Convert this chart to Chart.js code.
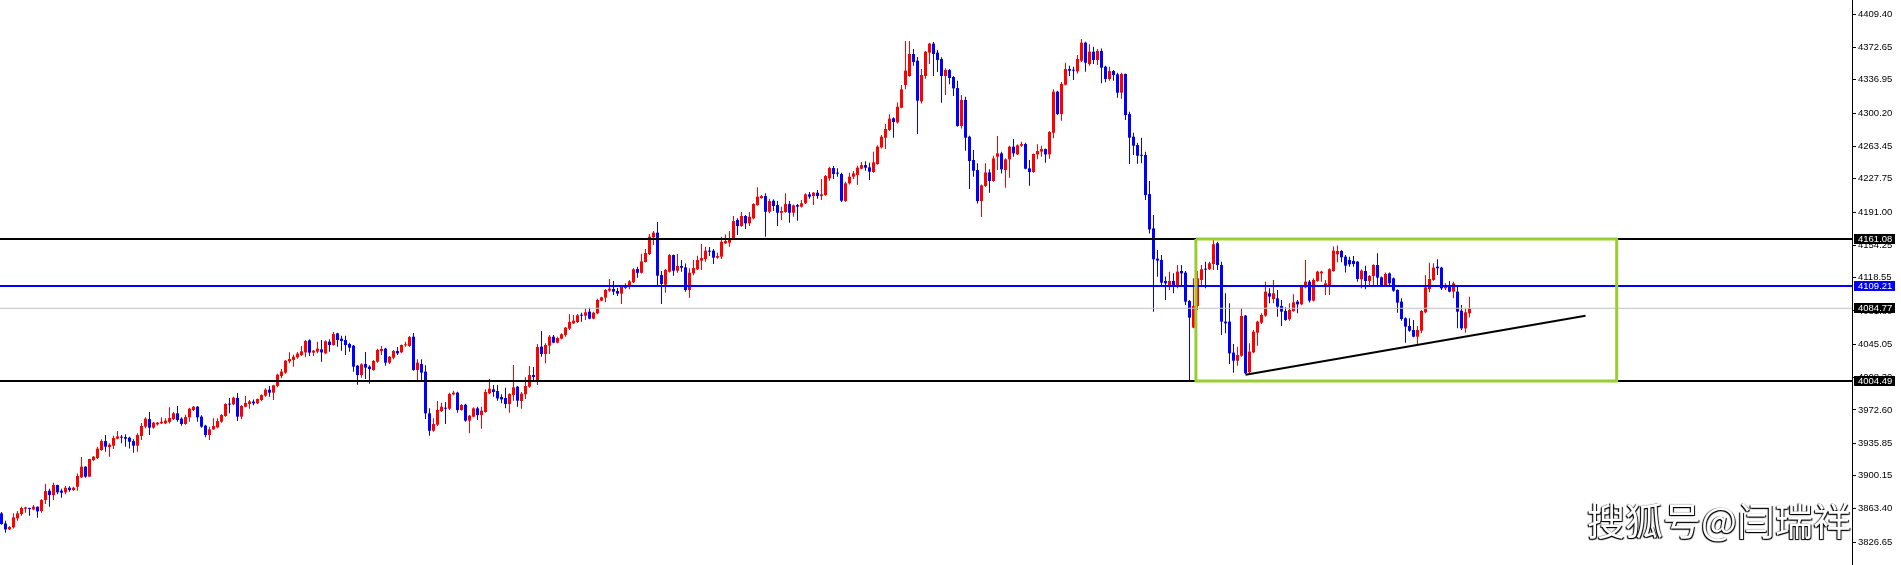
<!DOCTYPE html>
<html><head><meta charset="utf-8">
<script src="https://cdn.jsdelivr.net/npm/chart.js@4.4.1/dist/chart.umd.min.js"></script>
<style>
html,body{margin:0;padding:0;background:#fff;overflow:hidden}
#wrap{position:relative;width:1901px;height:565px}
canvas{display:block}
#wm{position:absolute;left:1587px;top:499px;font-family:"Noto Sans CJK SC";font-size:38px;line-height:40px;color:#fff;white-space:nowrap;
text-shadow:1px 1px 1px #000,-1px 1px 1px #000,-1px 0 1px rgba(0,0,0,.6)}
</style></head><body>
<div id="wrap"><canvas id="c" width="1901" height="565"></canvas><div id="wm">搜狐号@闫瑞祥</div></div>
<script>
const opens=[3858.4,3847.3,3840.7,3842.9,3852.9,3857.6,3863.5,3864.3,3862.8,3865.7,
3861.0,3873.1,3883.4,3878.6,3889.7,3883.4,3881.6,3886.7,3884.1,3887.8,
3898.1,3909.9,3898.9,3917.3,3919.5,3928.3,3938.2,3931.6,3933.1,3940.8,
3943.0,3942.6,3941.9,3938.2,3933.1,3943.8,3954.1,3962.5,3953.0,3956.6,
3957.7,3957.7,3959.2,3962.5,3968.8,3962.9,3957.0,3964.4,3972.5,3976.1,
3965.1,3955.2,3944.9,3951.1,3953.3,3959.6,3965.8,3979.5,3978.7,3985.7,
3965.1,3976.1,3979.1,3981.7,3979.8,3983.5,3988.3,3994.9,3991.6,3999.0,
4010.0,4013.7,4026.2,4027.7,4030.6,4033.2,4036.1,4049.4,4035.8,4036.9,
4039.4,4035.0,4047.9,4044.2,4057.1,4051.2,4049.7,4045.3,4043.5,4021.4,
4011.1,4023.2,4020.3,4016.6,4025.8,4037.6,4040.2,4024.7,4030.2,4037.6,
4036.1,4043.9,4043.1,4053.4,4016.6,4023.2,4014.8,3968.8,3949.6,3956.3,
3971.4,3974.7,3973.9,3989.8,3991.6,3972.5,3978.3,3960.7,3965.1,3974.3,
3966.9,3970.3,3990.9,3995.3,3993.4,3986.8,3985.7,3979.1,3989.0,3998.2,
3982.4,3989.8,3998.2,4011.1,4005.6,4042.4,4034.3,4043.5,4053.4,4046.8,
4051.2,4055.3,4062.3,4068.1,4069.6,4077.3,4076.6,4081.0,4073.3,4079.2,
4093.2,4096.5,4104.2,4106.0,4103.8,4100.9,4107.1,4110.1,4113.4,4128.1,
4123.9,4135.8,4144.6,4163.0,4168.2,4121.4,4110.8,4125.1,4143.5,4126.2,
4131.4,4129.9,4104.9,4123.3,4127.7,4137.3,4139.1,4148.3,4148.3,4140.6,
4141.7,4156.4,4157.1,4161.9,4182.2,4175.5,4186.6,4178.5,4184.0,4198.7,
4206.4,4208.6,4191.3,4203.5,4198.7,4190.2,4191.0,4199.8,4190.2,4198.7,
4196.9,4200.6,4210.5,4208.6,4212.3,4208.6,4209.7,4228.1,4239.5,4234.4,
4232.9,4203.1,4222.6,4230.0,4231.8,4238.8,4242.8,4240.3,4235.1,4243.9,
4262.3,4273.0,4281.5,4294.4,4289.9,4306.1,4331.2,4341.1,4365.4,4358.0,
4313.1,4341.1,4366.9,4376.8,4366.9,4359.9,4341.1,4347.7,4340.0,4327.8,
4285.9,4314.6,4274.1,4248.4,4237.3,4203.1,4219.7,4234.7,4225.2,4252.0,
4255.7,4237.3,4249.1,4263.1,4254.6,4264.2,4266.0,4239.2,4235.1,4254.6,
4257.6,4260.5,4254.6,4278.5,4323.8,4299.1,4331.5,4348.8,4348.1,4346.2,
4358.0,4377.9,4354.3,4368.0,4358.8,4368.7,4351.4,4337.8,4346.6,4342.9,
4322.7,4343.3,4299.1,4274.1,4264.9,4253.9,4253.9,4210.8,4172.9,4139.5,
4138.1,4114.9,4110.5,4114.9,4110.5,4125.9,4124.1,4092.8,4063.4,4087.3,
4116.0,4128.5,4127.8,4133.6,4156.5,4132.5,4070.0,4070.0,4035.8,4026.9,
4032.4,4076.6,4014.1,4036.1,4057.8,4068.9,4076.6,4101.3,4095.0,4095.7,
4087.3,4081.8,4072.6,4081.8,4092.1,4089.1,4107.9,4114.1,4093.2,4114.9,
4123.3,4109.4,4109.7,4125.9,4144.3,4148.0,4141.7,4138.1,4137.0,4136.2,
4116.7,4125.9,4114.9,4120.4,4132.5,4118.9,4110.1,4123.3,4117.8,4104.9,
4092.1,4073.7,4065.2,4060.8,4053.4,4060.0,4080.3,4106.0,4116.0,4130.7,
4129.6,4106.8,4108.6,4103.1,4103.1,4082.1,4062.6,4079.2];
const highs=[3859.9,3850.3,3844.4,3858.4,3861.0,3865.7,3865.7,3864.6,3867.6,3866.1,
3874.2,3891.1,3885.6,3892.2,3890.0,3885.6,3888.6,3888.2,3887.8,3902.5,
3920.6,3910.3,3918.7,3921.7,3932.0,3940.1,3944.9,3935.7,3944.1,3949.3,
3944.9,3945.6,3943.0,3940.1,3946.7,3958.1,3964.4,3970.2,3959.6,3959.2,
3964.4,3963.3,3975.4,3970.2,3976.9,3964.4,3967.3,3975.0,3976.9,3976.9,
3966.6,3956.3,3954.1,3963.3,3963.3,3968.0,3979.8,3985.7,3987.2,3991.2,
3978.0,3987.9,3983.5,3984.2,3985.3,3989.8,3996.4,3999.0,4000.4,4012.6,
4017.7,4027.7,4036.1,4033.5,4036.5,4043.1,4049.7,4050.5,4038.7,4047.9,
4049.7,4049.4,4050.5,4058.6,4057.8,4054.5,4054.5,4046.8,4044.2,4022.1,
4024.0,4036.5,4021.8,4027.7,4040.2,4043.1,4041.3,4032.1,4038.7,4042.0,
4044.9,4047.9,4054.2,4057.5,4028.4,4028.4,4021.8,3974.3,3963.3,3982.4,
3980.6,3981.3,3991.6,3993.8,3992.7,3979.1,3979.5,3966.9,3975.4,3976.1,
3976.1,3995.3,4006.7,4000.1,4000.1,3989.8,3997.1,3990.9,4022.1,3998.9,
3992.3,4008.5,4021.0,4019.9,4045.3,4059.7,4046.1,4055.3,4055.3,4053.4,
4057.1,4064.1,4078.1,4077.3,4078.4,4079.9,4084.7,4085.4,4081.0,4095.4,
4097.6,4106.0,4117.1,4114.9,4107.1,4110.5,4112.3,4116.0,4128.9,4130.6,
4145.0,4150.1,4166.7,4170.0,4179.9,4126.0,4128.1,4144.6,4144.2,4144.6,
4138.0,4134.3,4128.8,4138.0,4142.8,4155.7,4152.7,4152.3,4150.1,4146.1,
4163.7,4166.3,4170.0,4186.6,4184.0,4191.0,4187.7,4191.0,4200.6,4218.2,
4209.7,4211.6,4205.7,4205.0,4203.1,4196.9,4211.6,4203.1,4199.4,4199.8,
4204.2,4211.6,4213.1,4213.1,4215.3,4227.4,4231.8,4241.0,4241.7,4239.2,
4234.4,4224.4,4234.4,4236.2,4242.1,4246.2,4246.9,4245.4,4257.6,4264.6,
4276.0,4288.1,4298.8,4295.5,4312.0,4331.2,4379.7,4379.7,4370.9,4362.1,
4348.8,4368.7,4377.9,4378.6,4369.8,4361.7,4349.6,4348.8,4341.1,4335.9,
4320.1,4318.3,4275.2,4259.4,4244.7,4221.5,4244.7,4238.1,4253.1,4274.9,
4257.6,4250.2,4264.2,4271.5,4265.7,4268.6,4267.5,4248.4,4255.7,4265.7,
4264.2,4261.2,4280.4,4326.4,4324.9,4334.5,4355.8,4352.5,4351.4,4364.3,
4381.9,4379.0,4376.1,4373.5,4370.9,4371.6,4352.5,4351.4,4347.7,4344.8,
4344.8,4344.0,4301.7,4278.5,4267.5,4273.0,4257.6,4225.2,4187.6,4149.1,
4143.6,4119.7,4125.2,4123.3,4132.5,4132.5,4125.9,4093.9,4117.8,4125.9,
4132.5,4136.2,4136.2,4160.1,4158.3,4136.2,4101.3,4090.2,4045.3,4042.4,
4084.7,4077.3,4046.1,4060.8,4071.1,4079.2,4114.1,4106.8,4116.0,4104.9,
4093.9,4085.8,4090.2,4100.2,4093.9,4109.7,4138.1,4116.0,4117.8,4126.3,
4126.3,4116.0,4128.9,4152.8,4153.9,4149.1,4143.6,4141.7,4142.5,4137.0,
4127.8,4131.8,4121.5,4133.3,4145.4,4119.7,4124.1,4124.1,4118.6,4105.7,
4095.7,4074.8,4073.7,4071.8,4065.2,4082.9,4121.5,4135.1,4134.4,4138.8,
4130.7,4112.3,4114.9,4114.1,4109.4,4088.4,4084.7,4097.6];
const lows=[3845.9,3837.0,3840.0,3841.8,3850.3,3855.8,3859.1,3855.8,3861.7,3853.6,
3859.1,3868.7,3865.7,3873.1,3879.4,3875.7,3879.4,3882.3,3883.4,3883.4,
3897.4,3897.8,3898.9,3916.2,3918.4,3927.6,3926.5,3920.9,3929.4,3940.1,
3935.7,3932.0,3930.1,3925.4,3926.5,3939.3,3952.2,3944.9,3951.8,3955.5,
3957.0,3957.0,3957.7,3961.4,3959.6,3955.2,3956.3,3959.6,3971.4,3959.6,
3953.0,3942.3,3939.3,3950.4,3952.2,3958.5,3965.1,3968.8,3977.6,3960.3,
3962.2,3975.4,3973.9,3977.6,3979.1,3982.0,3987.2,3987.2,3983.5,3997.5,
4007.4,4012.6,4024.0,4020.3,4029.1,4032.1,4030.6,4032.1,4032.1,4035.0,
4025.8,4033.9,4036.9,4043.5,4042.4,4038.0,4033.2,4036.9,4014.8,4000.4,
4008.2,4006.7,4001.5,4015.9,4024.7,4033.2,4021.4,4023.2,4028.4,4033.2,
4035.0,4042.4,4042.4,4015.9,4005.6,4004.8,3962.5,3944.1,3948.5,3954.8,
3970.2,3957.0,3972.5,3988.7,3969.5,3971.7,3959.6,3946.7,3964.4,3961.4,
3951.9,3969.5,3989.8,3987.2,3982.8,3979.8,3974.3,3969.5,3982.8,3976.1,
3973.9,3984.6,3997.1,4005.6,4000.1,4031.3,4024.0,4034.3,4046.1,4046.1,
4050.5,4053.4,4060.8,4067.4,4068.5,4070.0,4071.8,4072.6,4072.6,4078.1,
4092.4,4091.3,4103.1,4099.4,4098.3,4089.5,4106.0,4105.7,4112.7,4118.5,
4123.2,4135.3,4143.5,4154.6,4109.7,4089.5,4102.0,4124.1,4120.7,4124.0,
4125.1,4103.1,4096.5,4121.1,4126.9,4126.9,4136.2,4142.4,4133.6,4139.5,
4139.1,4155.7,4152.7,4161.5,4165.6,4174.8,4172.2,4175.5,4182.9,4198.0,
4205.7,4163.7,4189.5,4192.1,4175.5,4182.2,4190.2,4179.2,4185.8,4181.4,
4196.1,4199.8,4205.7,4198.7,4205.7,4204.2,4209.0,4225.5,4227.4,4230.0,
4202.0,4202.4,4221.5,4227.4,4220.8,4238.1,4236.6,4226.3,4234.4,4243.2,
4261.2,4260.5,4280.7,4273.0,4288.8,4305.4,4326.4,4340.4,4352.5,4277.1,
4310.9,4338.2,4354.3,4341.1,4345.5,4311.7,4320.1,4331.9,4319.0,4285.2,
4283.3,4258.7,4216.3,4230.0,4200.5,4185.4,4218.9,4212.3,4224.4,4237.3,
4233.6,4217.8,4228.9,4252.0,4253.9,4263.1,4238.1,4220.0,4234.4,4249.1,
4252.0,4245.4,4249.8,4272.3,4298.0,4291.8,4330.8,4341.1,4336.7,4344.0,
4356.6,4345.9,4352.5,4354.3,4353.2,4333.0,4334.1,4335.9,4335.9,4317.2,
4316.1,4292.5,4243.9,4253.9,4244.3,4244.7,4204.2,4167.4,4081.0,4119.6,
4108.6,4093.9,4104.9,4101.3,4106.8,4108.6,4088.4,4005.6,4062.6,4082.9,
4108.6,4106.8,4127.0,4127.0,4127.0,4055.3,4057.1,4023.2,4013.7,4021.4,
4031.3,4012.2,4013.0,4035.0,4043.5,4067.4,4075.5,4090.2,4090.2,4075.5,
4065.2,4071.1,4071.1,4081.0,4079.2,4088.0,4106.8,4091.0,4092.1,4114.1,
4114.1,4099.4,4099.4,4125.2,4135.5,4135.5,4124.1,4130.7,4130.7,4114.1,
4106.8,4105.7,4110.5,4109.4,4109.4,4109.4,4109.4,4108.6,4103.1,4079.9,
4071.1,4046.8,4058.9,4052.7,4045.3,4057.1,4079.2,4102.4,4115.2,4121.5,
4104.9,4104.9,4102.4,4095.7,4062.6,4060.8,4057.8,4074.8];
const closes=[3846.6,3840.7,3843.3,3854.0,3858.4,3864.3,3865.0,3863.2,3865.7,3860.6,
3873.1,3883.0,3878.6,3889.7,3881.6,3881.2,3886.7,3884.1,3886.7,3899.6,
3909.9,3898.9,3918.4,3920.9,3929.8,3938.2,3932.0,3934.2,3941.6,3943.4,
3941.9,3940.8,3937.5,3933.1,3944.9,3954.8,3962.9,3953.0,3958.5,3958.5,
3959.6,3960.7,3963.6,3968.8,3961.4,3957.0,3964.7,3973.9,3976.1,3964.4,
3954.1,3944.9,3951.1,3954.8,3960.3,3966.9,3979.1,3978.4,3986.1,3965.1,
3976.9,3980.2,3982.0,3979.8,3984.6,3989.0,3994.9,3991.6,3999.7,4011.5,
4014.8,4026.9,4028.8,4031.3,4034.7,4037.2,4048.6,4035.8,4038.0,4040.2,
4036.1,4048.3,4044.2,4056.4,4049.7,4048.6,4044.2,4041.3,4020.3,4011.1,
4022.9,4019.2,4017.7,4026.6,4038.7,4039.8,4024.7,4031.3,4037.6,4035.0,
4044.2,4045.0,4053.0,4016.6,4024.7,4013.7,3968.8,3949.6,3957.0,3972.5,
3976.1,3973.9,3990.1,3991.6,3972.5,3978.0,3960.7,3966.2,3974.3,3966.9,
3971.7,3992.3,3996.0,3992.3,3985.3,3984.2,3979.1,3990.1,3997.5,3982.8,
3990.5,3998.9,4011.1,4008.9,4042.0,4034.3,4044.2,4053.4,4046.8,4051.9,
4056.0,4063.4,4069.6,4071.1,4077.0,4076.6,4080.3,4073.3,4079.9,4093.9,
4096.8,4104.9,4106.4,4103.1,4100.9,4108.6,4109.0,4114.5,4127.8,4123.9,
4136.5,4145.7,4163.7,4168.2,4120.7,4111.6,4127.0,4143.5,4126.2,4131.4,
4129.5,4104.9,4124.0,4129.2,4138.0,4140.2,4148.3,4147.2,4140.6,4142.4,
4158.2,4159.0,4160.8,4181.0,4175.5,4186.6,4178.5,4185.8,4199.8,4207.9,
4208.6,4191.3,4203.1,4197.6,4190.2,4192.1,4199.8,4190.2,4198.3,4196.9,
4200.6,4210.5,4207.9,4212.3,4208.6,4210.5,4230.7,4239.5,4232.9,4233.3,
4203.5,4222.6,4230.0,4233.6,4239.9,4242.8,4239.9,4235.5,4245.8,4263.1,
4274.1,4282.6,4294.0,4290.3,4307.2,4326.4,4347.0,4365.4,4356.6,4313.9,
4342.2,4368.0,4376.8,4365.4,4358.8,4341.1,4347.7,4338.9,4327.5,4285.9,
4314.6,4273.0,4247.3,4236.6,4203.1,4220.4,4234.7,4225.2,4250.2,4255.7,
4238.1,4249.1,4263.1,4255.7,4264.6,4266.0,4238.8,4235.1,4255.0,4258.3,
4260.5,4254.6,4279.3,4323.8,4299.1,4332.3,4348.8,4347.0,4347.0,4359.9,
4377.9,4355.8,4368.0,4358.8,4368.7,4350.3,4337.8,4346.6,4342.2,4322.7,
4343.3,4298.0,4273.0,4264.2,4253.1,4253.1,4209.7,4171.8,4138.8,4137.3,
4113.0,4112.3,4114.9,4110.5,4125.2,4123.3,4092.1,4074.4,4087.3,4117.8,
4127.8,4127.4,4134.4,4155.4,4132.5,4070.0,4068.1,4035.0,4026.9,4033.2,
4076.2,4013.0,4036.9,4058.9,4070.0,4077.3,4103.1,4097.6,4101.3,4086.5,
4081.0,4071.8,4082.9,4091.3,4089.1,4108.6,4114.1,4093.2,4116.0,4125.2,
4125.2,4112.3,4127.8,4148.4,4148.0,4141.0,4131.8,4133.3,4133.6,4117.1,
4126.3,4114.9,4120.4,4132.5,4118.6,4110.5,4122.6,4112.3,4104.2,4091.0,
4072.9,4064.5,4060.0,4053.4,4060.8,4081.8,4107.9,4117.1,4129.6,4128.9,
4106.8,4110.5,4103.1,4112.3,4081.0,4062.6,4080.3,4084.77];

// price axis tick labels
const yTicks=[4409.40,4372.65,4336.95,4300.20,4263.45,4227.75,4191.00,4154.25,4118.55,4081.80,4045.05,4008.30,3972.60,3935.85,3900.15,3863.40,3826.65];
// horizontal levels
const levelValues=[4161.08,4109.21,4084.77,4004.49];
// consolidation box (bar index, price)
const boxX=[298.6,403.8];
const boxY=[4161.08,4004.49];
// rising trend line (bar index, price)
const trendX=[311,396];
const trendY=[4011.4,4076.6];

const RED='#ff0000', BLUE='#0000ff';
const levelStyles=[
  {color:'#000000',width:2,box:'#000000'},
  {color:'#0000ff',width:2,box:'#0000ff'},
  {color:'#c0c0c0',width:1,box:'#000000'},
  {color:'#000000',width:2,box:'#000000'}
];
const X_MIN=-0.375, X_MAX=462.625;

const candleColors=opens.map((o,i)=>closes[i]>=o?RED:BLUE);
const bodies=opens.map((o,i)=>({x:i,y:[o,closes[i]]}));
const wicks=lows.map((l,i)=>({x:i,y:[l,highs[i]]}));

const lineDatasets=levelValues.map((v,k)=>({
  type:'line',data:[{x:X_MIN,y:v},{x:X_MAX,y:v}],
  borderColor:levelStyles[k].color,borderWidth:levelStyles[k].width,
  pointRadius:0,fill:false,tension:0,order:0
}));
lineDatasets.push({
  type:'line',
  data:[{x:boxX[0],y:boxY[0]},{x:boxX[1],y:boxY[0]},{x:boxX[1],y:boxY[1]},{x:boxX[0],y:boxY[1]},{x:boxX[0],y:boxY[0]}],
  borderColor:'#9acd32',borderWidth:3,borderJoinStyle:'round',pointRadius:0,fill:false,tension:0,order:-2
});
lineDatasets.push({
  type:'line',data:[{x:trendX[0],y:trendY[0]},{x:trendX[1],y:trendY[1]}],
  borderColor:'#000000',borderWidth:2,pointRadius:0,fill:false,tension:0,order:-1
});

const levelLabelPlugin={
  id:'levelLabels',
  afterDraw(chart){
    const ys=chart.scales.y, ctx=chart.ctx;
    ctx.save();
    ctx.font='9.5px "Liberation Sans"';
    ctx.textBaseline='middle';
    ctx.textAlign='left';
    levelValues.forEach((v,k)=>{
      const py=ys.getPixelForValue(v);
      ctx.fillStyle=levelStyles[k].box;
      ctx.fillRect(ys.left+2,Math.round(py)-5,41,10);
      ctx.fillStyle='#ffffff';
      ctx.fillText(v.toFixed(2),ys.left+6,py);
    });
    ctx.restore();
  }
};

new Chart(document.getElementById('c'),{
  data:{datasets:[
    ...lineDatasets,
    {type:'bar',data:bodies,backgroundColor:candleColors,barThickness:3,grouped:false,minBarLength:1,inflateAmount:0,borderWidth:0,order:1},
    {type:'bar',data:wicks,backgroundColor:candleColors,barThickness:1,grouped:false,inflateAmount:0,borderWidth:0,order:2}
  ]},
  options:{
    responsive:false,animation:false,devicePixelRatio:1,
    layout:{padding:0},
    plugins:{legend:{display:false},tooltip:{enabled:false}},
    scales:{
      x:{type:'linear',min:X_MIN,max:X_MAX,display:false,offset:false},
      y:{type:'linear',position:'right',min:3801.4,max:4425.0,
        afterBuildTicks:s=>{s.ticks=yTicks.map(v=>({value:v}));},
        afterFit:s=>{s.width=49;s.paddingTop=0;s.paddingBottom=0;},
        grid:{drawOnChartArea:false,drawTicks:true,tickLength:4,color:'#000',tickWidth:1},
        border:{display:true,color:'#000',width:1},
        ticks:{padding:2,color:'#000',autoSkip:false,maxRotation:0,
          font:{family:'Liberation Sans',size:9.5},
          callback:v=>Number(v).toFixed(2)}
      }
    }
  },
  plugins:[levelLabelPlugin]
});
</script>
</body></html>
